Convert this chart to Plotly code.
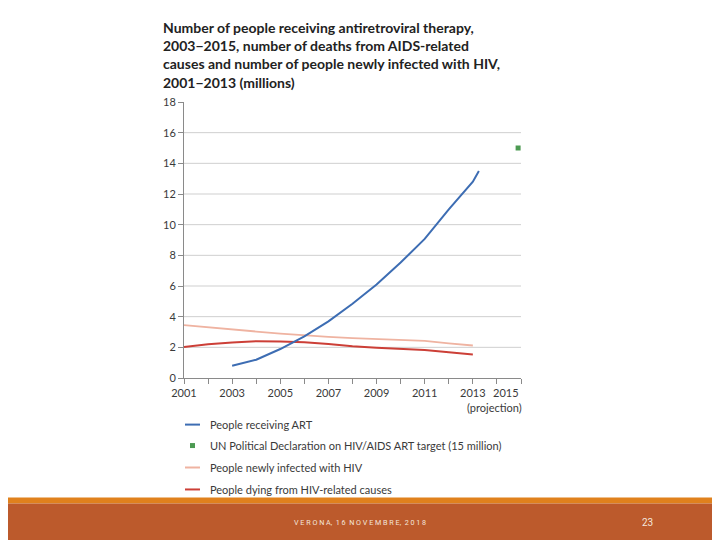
import plotly.graph_objects as go

# ---------------- data ----------------
art_years = [2003, 2004, 2005, 2006, 2007, 2008, 2009, 2010, 2011, 2012, 2013, 2013.25]
art_values = [0.80, 1.19, 1.89, 2.71, 3.69, 4.84, 6.10, 7.53, 9.07, 11.0, 12.8, 13.5]

target_year = [2014.88]
target_value = [15.0]

inf_years = [2001, 2002, 2003, 2004, 2005, 2006, 2007, 2008, 2009, 2010, 2011, 2012, 2013]
inf_values = [3.45, 3.30, 3.18, 3.03, 2.90, 2.78, 2.68, 2.60, 2.53, 2.47, 2.42, 2.26, 2.12]

death_years = [2001, 2002, 2003, 2004, 2005, 2006, 2007, 2008, 2009, 2010, 2011, 2012, 2013]
death_values = [2.02, 2.20, 2.32, 2.40, 2.38, 2.33, 2.21, 2.07, 1.98, 1.91, 1.83, 1.68, 1.53]

y_ticks = [0, 2, 4, 6, 8, 10, 12, 14, 16, 18]
grid_values = [2, 4, 6, 8, 10, 12, 14, 16]
x_label_years = [2001, 2003, 2005, 2007, 2009, 2011, 2013]

legend_labels = [
    "People receiving ART",
    "UN Political Declaration on HIV/AIDS ART target (15 million)",
    "People newly infected with HIV",
    "People dying from HIV-related causes",
]

title_text = ("Number of people receiving antiretroviral therapy,<br>"
              "2003\u22122015, number of deaths from AIDS-related<br>"
              "causes and number of people newly infected with HIV,<br>"
              "2001\u22122013 (millions)")
footer_text = "V E R O N A,  1 6  N O V E M B R E,  2 0 1 8"
page_number = "23"

# ---------------- style ----------------
BLUE = "#3d6db3"
GREEN = "#4c9a52"
SALMON = "#efb3a1"
RED = "#cc3f37"
GRID = "#cfcfcf"
AXIS = "#8a8a8a"
TXT = "#3a3a3a"
FONT = "Lato, 'Open Sans', sans-serif"
FS = 11

W, H = 720, 540
OFF = 8  # page offset of the figure inside the browser window
# plot area in window pixels
P_L, P_R, P_T, P_B = 184, 521.5, 101.7, 378.3
ML = P_L - OFF
MT = P_T - OFF
MR = W - (P_R - OFF)
MB = H - (P_B - OFF)
PW = P_R - P_L
PH = P_B - P_T


def px2x(px):
    return (px - P_L) / PW


def px2y(py):
    return (P_B - py) / PH


fig = go.Figure()
fig.add_trace(go.Scatter(x=inf_years, y=inf_values, mode="lines",
                         line=dict(color=SALMON, width=1.8), name=legend_labels[2],
                         showlegend=False))
fig.add_trace(go.Scatter(x=death_years, y=death_values, mode="lines",
                         line=dict(color=RED, width=2), name=legend_labels[3],
                         showlegend=False))
fig.add_trace(go.Scatter(x=art_years, y=art_values, mode="lines",
                         line=dict(color=BLUE, width=2), name=legend_labels[0],
                         showlegend=False))
fig.add_trace(go.Scatter(x=target_year, y=target_value, mode="markers",
                         marker=dict(color=GREEN, symbol="square", size=5),
                         name=legend_labels[1], showlegend=False))

shapes = []
for g in grid_values:
    shapes.append(dict(type="line", xref="paper", yref="y", x0=0, x1=1, y0=g, y1=g,
                       line=dict(color=GRID, width=1), layer="below"))

# manual legend
leg_rows = [425, 446, 468, 490]
leg_colors = [BLUE, GREEN, SALMON, RED]
for i, (row, col) in enumerate(zip(leg_rows, leg_colors)):
    if i == 1:
        shapes.append(dict(type="rect", xref="paper", yref="paper",
                           x0=px2x(190), x1=px2x(195), y0=px2y(row - 2.5), y1=px2y(row + 2.5),
                           fillcolor=col, line=dict(width=0)))
    else:
        shapes.append(dict(type="line", xref="paper", yref="paper",
                           x0=px2x(185), x1=px2x(200), y0=px2y(row), y1=px2y(row),
                           line=dict(color=col, width=2)))

# footer bars
shapes.append(dict(type="rect", xref="paper", yref="paper",
                   x0=px2x(-10), x1=px2x(W + 20), y0=px2y(498), y1=px2y(504),
                   fillcolor="#e0811d", line=dict(width=0), layer="below"))
shapes.append(dict(type="rect", xref="paper", yref="paper",
                   x0=px2x(-10), x1=px2x(W + 20), y0=px2y(504), y1=px2y(H + 20),
                   fillcolor="#bc5a2c", line=dict(width=0), layer="below"))

annotations = []
annotations.append(dict(text=title_text, xref="paper", yref="paper",
                        x=px2x(161), y=px2y(17), xanchor="left", yanchor="top",
                        align="left", showarrow=False,
                        font=dict(family=FONT, size=14, color="#222222", weight="bold")))
for row, lab in zip(leg_rows, legend_labels):
    annotations.append(dict(text=lab, xref="paper", yref="paper",
                            x=px2x(208), y=px2y(row), xanchor="left", yanchor="middle",
                            showarrow=False, font=dict(family=FONT, size=FS, color=TXT)))
annotations.append(dict(text="2015", xref="x", yref="paper", x=2015, y=px2y(393),
                        xanchor="right", yanchor="middle", xshift=0, showarrow=False,
                        font=dict(family=FONT, size=FS, color=TXT)))
annotations.append(dict(text="(projection)", xref="x", yref="paper", x=2015, y=px2y(408),
                        xanchor="right", yanchor="middle", xshift=3, showarrow=False,
                        font=dict(family=FONT, size=FS, color=TXT)))
annotations.append(dict(text=footer_text, xref="paper", yref="paper",
                        x=px2x(360), y=px2y(523), xanchor="center", yanchor="middle",
                        showarrow=False,
                        font=dict(family="Roboto, sans-serif", size=7.2, color="#f4e6dc")))
annotations.append(dict(text=page_number, xref="paper", yref="paper",
                        x=px2x(648), y=px2y(523), xanchor="center", yanchor="middle",
                        showarrow=False,
                        font=dict(family="Roboto, sans-serif", size=10, color="#f4e6dc")))

fig.update_layout(
    width=W, height=H,
    margin=dict(l=ML, r=MR, t=MT, b=MB),
    paper_bgcolor="white", plot_bgcolor="white",
    showlegend=False,
    shapes=shapes, annotations=annotations,
    font=dict(family=FONT, size=FS, color=TXT),
    xaxis=dict(range=[2001, 2015], tickvals=x_label_years,
               ticktext=[str(y) for y in x_label_years],
               showgrid=False, zeroline=False,
               showline=True, linecolor=AXIS, linewidth=1,
               ticks="outside", ticklen=5, tickcolor=AXIS,
               minor=dict(dtick=1, tick0=2001, ticks="outside", ticklen=5,
                          tickcolor=AXIS, showgrid=False),
               tickfont=dict(family=FONT, size=FS, color=TXT)),
    yaxis=dict(range=[0, 18], tickvals=y_ticks, showgrid=False, zeroline=False,
               showline=True, linecolor=AXIS, linewidth=1,
               ticks="outside", ticklen=5, tickcolor=AXIS,
               tickfont=dict(family=FONT, size=FS, color=TXT)),
)

fig.write_html("out.html")
